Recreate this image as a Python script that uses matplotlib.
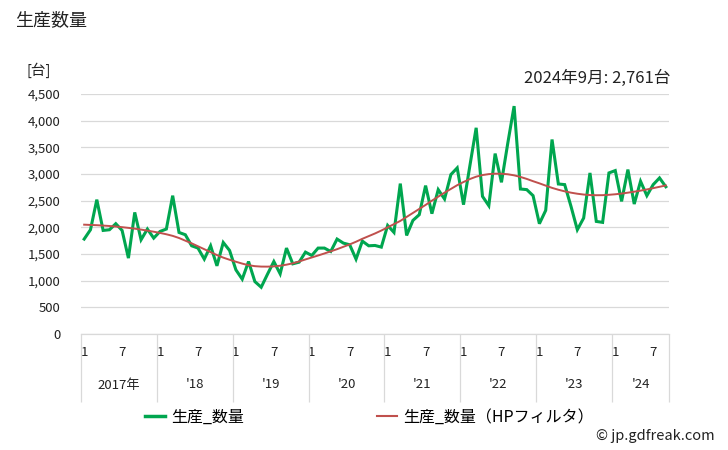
import matplotlib
matplotlib.use("Agg")
import matplotlib.pyplot as plt
from matplotlib.lines import Line2D

plt.rcParams['font.family'] = ['Noto Sans CJK JP', 'DejaVu Sans']

title = "生産数量"
unit = "[台]"
note = "2024年9月: 2,761台"
series_name = "生産_数量"
trend_name = "生産_数量（HPフィルタ）"
year_labels = ["2017年", "'18", "'19", "'20", "'21", "'22", "'23", "'24"]
yticks = [0, 500, 1000, 1500, 2000, 2500, 3000, 3500, 4000, 4500]

# Monthly production, Jan 2017 - Sep 2024
values = [1780, 1955, 2519, 1942, 1955, 2068, 1942, 1423, 2280, 1767, 1968, 1798,
          1923, 1968, 2594, 1904, 1861, 1654, 1611, 1404, 1654, 1278, 1716, 1566,
          1203, 1028, 1359, 983, 877, 1122, 1359, 1128, 1611, 1316, 1347, 1535,
          1472, 1611, 1611, 1547, 1780, 1704, 1673, 1404, 1742, 1654, 1660, 1629,
          2036, 1905, 2820, 1848, 2130, 2237, 2782, 2256, 2707, 2531, 2989, 3114,
          2425, 3150, 3866, 2581, 2406, 3383, 2844, 3577, 4273, 2719, 2707, 2594,
          2068, 2318, 3647, 2813, 2801, 2393, 1955, 2174, 3020, 2111, 2093, 3020,
          3064, 2487, 3083, 2437, 2863, 2594, 2801, 2926, 2761]

trend = [2050, 2045, 2040, 2033, 2025, 2015, 2003, 1990, 1975, 1958, 1938, 1918,
         1895, 1870, 1840, 1800, 1750, 1700, 1645, 1590, 1535, 1480, 1432, 1392,
         1355, 1320, 1290, 1272, 1264, 1263, 1268, 1280, 1300, 1325, 1360, 1398,
         1435, 1472, 1510, 1550, 1590, 1635, 1680, 1730, 1785, 1835, 1885, 1940,
         2000, 2060, 2120, 2195, 2270, 2345, 2420, 2500, 2575, 2650, 2720, 2790,
         2850, 2905, 2950, 2980, 2998, 3006, 3005, 2995, 2975, 2945, 2908, 2865,
         2825, 2782, 2740, 2705, 2675, 2650, 2630, 2615, 2605, 2602, 2603, 2610,
         2620, 2633, 2650, 2668, 2688, 2710, 2735, 2760, 2785]

months = [(i % 12) + 1 for i in range(len(values))]
x = list(range(len(values)))

W, H = 728, 450
fig = plt.figure(figsize=(W / 100, H / 100), dpi=100)
L, R, T, B = 81, 669, 94, 334
ax = fig.add_axes([L / W, 1 - B / H, (R - L) / W, (B - T) / H])

green = '#00a64f'
red = '#c0504d'
grid = '#d9d9d9'
txt = '#222222'

ax.plot(x, values, color=green, lw=2.2, solid_joinstyle='miter', zorder=3)
ax.plot(x, trend, color=red, lw=1.4, zorder=4)

ax.set_xlim(-0.5, len(values) - 0.5)
ax.set_ylim(0, 4500)
ax.set_yticks(yticks)
ax.set_yticklabels([f"{v:,}" for v in yticks], fontsize=9.5, color=txt)
ax.yaxis.grid(True, color=grid, lw=0.9)
ax.set_axisbelow(True)
for s in ['top', 'right', 'left']:
    ax.spines[s].set_visible(False)
ax.spines['bottom'].set_color(grid)
ax.spines['bottom'].set_linewidth(0.9)
ax.tick_params(axis='y', length=0, pad=15)

tick_pos = [i for i in x if months[i] in (1, 7)]
ax.set_xticks(tick_pos)
ax.set_xticklabels([str(months[i]) for i in tick_pos], fontsize=9.5, color=txt)
ax.tick_params(axis='x', length=0, pad=9)

# year separators and labels
trans = ax.get_xaxis_transform()
h = B - T
sep_bottom = -(402 - B) / h
starts = [i for i in x if months[i] == 1]
bounds = [s - 0.5 for s in starts] + [len(values) - 0.5]
ax.vlines(bounds, sep_bottom, 0, transform=trans, colors=grid, lw=0.9, clip_on=False)
for k, s in enumerate(starts):
    e = bounds[k + 1]
    ax.text((s - 0.5 + e) / 2, -(385 - B) / h, year_labels[k], transform=trans,
            ha='center', va='center', fontsize=9.5, color=txt)

fig.text(15 / W, 1 - 20 / H, title, fontsize=13, ha='left', va='center', color=txt)
fig.text(26 / W, 1 - 70 / H, unit, fontsize=10.5, ha='left', va='center', color=txt)
fig.text(671 / W, 1 - 78 / H, note, fontsize=12, ha='right', va='center', color=txt)
fig.text(715 / W, 1 - 436 / H, "© jp.gdfreak.com", fontsize=10.5, ha='right', va='center', color=txt)

handles = [Line2D([], [], color=green, lw=2.5), Line2D([], [], color=red, lw=1.5)]
fig.legend(handles, [series_name, trend_name], loc='center', bbox_to_anchor=(0.507, 1 - 417 / H),
           ncol=2, frameon=False, fontsize=11.5, handlelength=1.3, handletextpad=0.35,
           columnspacing=8.3)

fig.savefig("out.png", dpi=100)
